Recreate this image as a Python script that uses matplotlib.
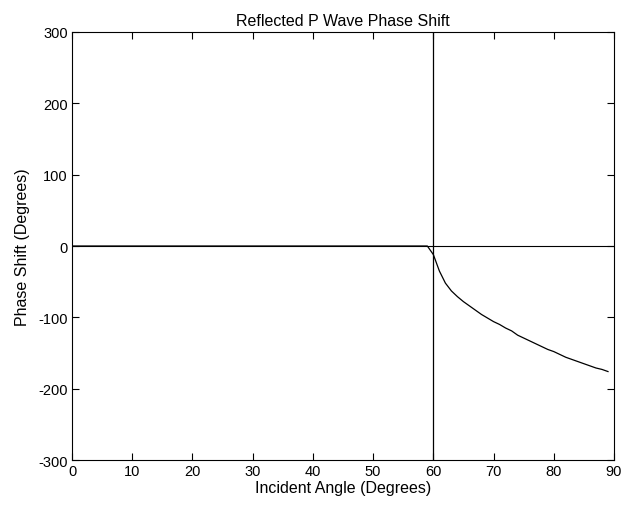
import matplotlib
matplotlib.use("Agg")
import matplotlib.pyplot as plt

plt.rcParams.update({
    "font.family": "sans-serif",
    "font.sans-serif": ["Liberation Sans", "DejaVu Sans"],
    "font.size": 10,
    "axes.unicode_minus": False,
})

# Phase shift of reflected P wave vs incident angle
angle = [0, 59, 60, 61, 62, 63, 64, 65, 66, 67, 68, 69, 70, 71, 72, 73, 74,
         75, 76, 77, 78, 79, 80, 81, 82, 83, 84, 85, 86, 87, 88, 89]
phase = [0, 0, -12, -35, -52, -63, -71, -78, -84, -90, -96, -101, -106,
         -110, -115, -119, -125, -129, -133, -137, -141, -145, -148, -152,
         -156, -159, -162, -165, -168, -171, -173, -176]

critical_angle = 60
xlim = (0, 90)
ylim = (-300, 300)

fig = plt.figure(figsize=(6.24, 5.06), dpi=100)
ax = fig.add_axes([0.1154, 0.0889, 0.8686, 0.8459])

ax.plot(angle, phase, color="black", linewidth=0.9)
ax.plot(xlim, [0, 0], color="black", linewidth=0.8)
ax.plot([critical_angle, critical_angle], ylim, color="black", linewidth=0.9)

ax.set_xlim(*xlim)
ax.set_ylim(*ylim)
ax.set_xticks(range(0, 91, 10))
ax.set_yticks(range(-300, 301, 100))
ax.tick_params(direction="in", top=True, right=True, length=5, width=0.8,
               labelsize=10.5, pad=3)
for s in ax.spines.values():
    s.set_linewidth(0.8)

ax.set_title("Reflected P Wave Phase Shift", fontsize=11.5, pad=5)
ax.set_xlabel("Incident Angle (Degrees)", fontsize=11.5, labelpad=1)
ax.set_ylabel("Phase Shift (Degrees)", fontsize=11.5, labelpad=6)

fig.savefig("out.png", dpi=100)
